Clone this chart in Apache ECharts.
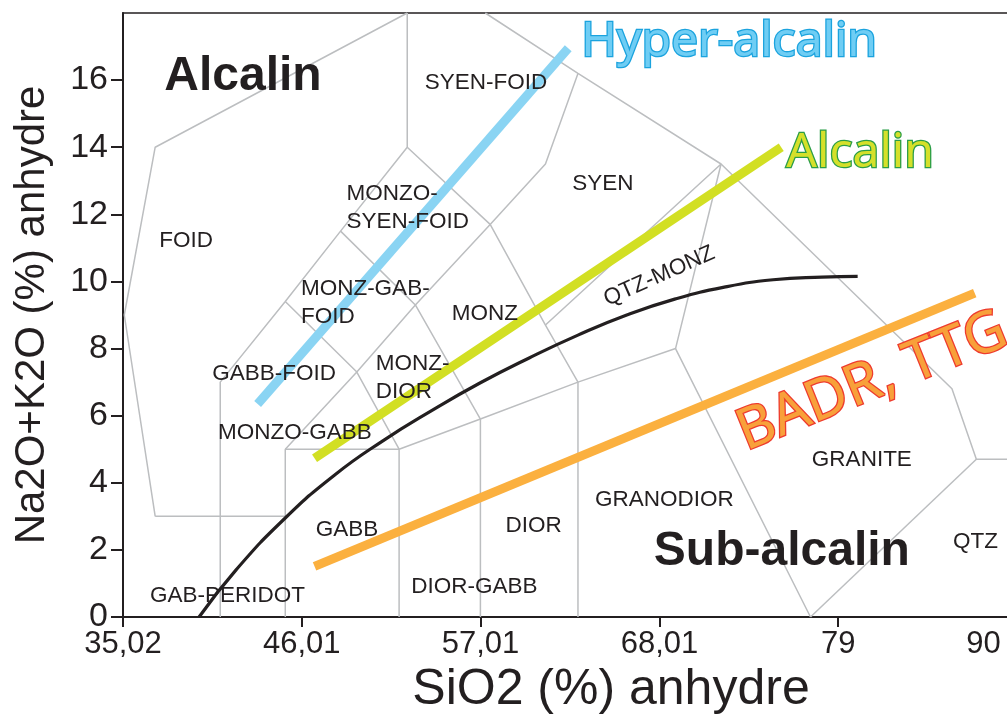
<!DOCTYPE html>
<html>
<head>
<meta charset="utf-8">
<title>TAS plutonique</title>
<script src="https://cdn.jsdelivr.net/npm/echarts@6/dist/echarts.min.js"></script>
<style>
  html, body { margin: 0; padding: 0; background: #fff; }
  #chart { width: 1007px; height: 717px; }
</style>
</head>
<body>
<div id="chart"></div>
<script>
// axes
const xTicks = [35.02, 46.01, 57.01, 68.01, 79, 90]
const yTicks = [0, 2, 4, 6, 8, 10, 12, 14, 16]

// field boundaries [SiO2, Na2O+K2O]
const fieldLines = [
  [[37, 3], [35.1, 9], [37, 14], [52.5, 18]],
  [[37, 3], [45, 3]],
  [[41, 0], [41, 7], [45, 9.4], [48.4, 11.5], [52.5, 14], [52.5, 18]],
  [[45, 0], [45, 5], [52, 5], [52, 0]],
  [[45, 5], [49.4, 7.3], [52, 5]],
  [[45, 9.4], [49.4, 7.3], [53, 9.3], [57, 5.9], [57, 0]],
  [[48.4, 11.5], [53, 9.3], [57.6, 11.7], [52.5, 14]],
  [[52, 5], [57, 5.9], [63, 7], [69, 8], [77.3, 0]],
  [[57.6, 11.7], [61, 8.7], [63, 7], [63, 0]],
  [[57.6, 11.7], [61, 13.5], [63, 16.2]],
  [[57.3, 18], [63, 16.2], [71.8, 13.5], [86, 6.8], [87.5, 4.7], [90, 4.7]],
  [[61, 8.7], [71.8, 13.5], [69, 8]],
  [[87.5, 4.7], [77.3, 0]]
]

// alcalin / sub-alcalin boundary
const divideCurve = [
  [39.7, 0], [42, 1.42], [45, 2.95], [48, 4.22], [51, 5.25], [54, 6.15],
  [57, 6.98], [60, 7.72], [63, 8.4], [66, 9.0], [69, 9.48], [72, 9.83],
  [75, 10.05], [78, 10.13], [80.2, 10.15]
]

// trend bands
const hyperBand = [[43.3, 6.35], [62.4, 16.95]]
const alcalinBand = [[46.8, 4.73], [75.5, 14.0]]
const badrBand = [[46.8, 1.51], [87.4, 9.65]]

// field names
const fieldLabels = [
  ['FOID', 38.9, 11.2],
  ['SYEN-FOID', 57.34, 15.92],
  ['SYEN', 64.53, 12.92],
  ['MONZ', 57.28, 9.04],
  ['GABB-FOID', 44.31, 7.24],
  ['MONZO-GABB', 45.59, 5.49],
  ['GABB', 48.8, 2.6],
  ['GAB-PERIDOT', 41.44, 0.63],
  ['DIOR-GABB', 56.63, 0.91],
  ['DIOR', 60.28, 2.72],
  ['GRANODIOR', 68.31, 3.49],
  ['GRANITE', 80.46, 4.68],
  ['QTZ', 87.45, 2.25]
]
const stackedLabels = [
  ['MONZO-\nSYEN-FOID', 48.77, 12.18],
  ['MONZ-GAB-\nFOID', 45.96, 9.35],
  ['MONZ-\nDIOR', 50.57, 7.12]
]
const slantLabel = ['QTZ-MONZ', 68.0, 10.16]
const groupLabels = [['Alcalin', 42.4, 16.1], ['Sub-alcalin', 75.54, 1.93]]

// band names
const tagNames = ['Hyper-alcalin', 'Alcalin', 'BADR, TTG']
const tagX = [72.3, 80.35, 81.1]
const tagY = [17.14, 13.83, 7.0]

const ink = '#231f20'
const grey = '#bcbec0'
const sans = 'Liberation Sans, Arial, Helvetica, sans-serif'
const tagFont = 'Noto Sans, Open Sans, sans-serif'

let myChart = echarts.init(document.getElementById('chart'))

let series = []

fieldLines.forEach((pts) => {
  series.push({
    type: 'line',
    data: pts,
    symbol: 'none',
    silent: true,
    lineStyle: { color: grey, width: 1.5 },
    z: 1
  })
})

// coloured trends
const bandColors = ['#8ad4f3', '#d2df23', '#fbb03f']
;[hyperBand, alcalinBand, badrBand].forEach((pts, i) => {
  series.push({
    type: 'line',
    data: pts,
    symbol: 'none',
    silent: true,
    lineStyle: { color: bandColors[i], width: 9, cap: 'butt' },
    z: 3
  })
})

series.push({
  type: 'line',
  data: divideCurve,
  smooth: 0.5,
  symbol: 'none',
  silent: true,
  lineStyle: { color: ink, width: 3.2 },
  z: 4
})

// text labels placed at data coords
function textItem(name, x, y, label) {
  return { value: [x, y], name: name, label: Object.assign({ formatter: name }, label) }
}

let textData = []
fieldLabels.forEach((v) => {
  textData.push(textItem(v[0], v[1], v[2], {}))
})
stackedLabels.forEach((v) => {
  textData.push(textItem(v[0], v[1], v[2], { align: 'left', lineHeight: 28 }))
})
textData.push(textItem(slantLabel[0], slantLabel[1], slantLabel[2], { rotate: 24 }))
groupLabels.forEach((v) => {
  textData.push(textItem(v[0], v[1], v[2], { fontSize: 48, fontWeight: 'bold' }))
})

const tagStyles = [
  { color: '#6fcdf4', textBorderColor: '#1ba3de' },
  { color: '#d5e02a', textBorderColor: '#2a9d47' },
  { color: '#f8a03a', textBorderColor: '#ee3b2e', rotate: 22, fontSize: 57 }
]
tagNames.forEach((n, i) => {
  textData.push(textItem(n, tagX[i], tagY[i], Object.assign({
    fontFamily: tagFont,
    fontSize: 48,
    textBorderWidth: 2.6
  }, tagStyles[i])))
})

series.push({
  type: 'scatter',
  data: textData,
  symbolSize: 0,
  silent: true,
  z: 10,
  itemStyle: { opacity: 1 },
  label: {
    show: true,
    position: 'inside',
    color: ink,
    fontFamily: sans,
    fontSize: 22.5
  }
})

myChart.setOption({
  animation: false,
  backgroundColor: '#fff',
  grid: {
    left: 123,
    top: 13,
    right: -10,
    bottom: 100,
    containLabel: false,
    outerBoundsMode: 'none',
    show: true,
    borderColor: ink,
    borderWidth: 1.5
  },
  xAxis: {
    type: 'value',
    min: 35.02,
    max: 90,
    name: 'SiO2 (%) anhydre',
    nameLocation: 'middle',
    nameGap: 48,
    nameTextStyle: {
      color: ink,
      fontFamily: sans,
      fontSize: 50,
      padding: [0, 0, 0, 82]
    },
    splitLine: { show: false },
    axisLine: { onZero: false, lineStyle: { color: ink, width: 2 } },
    axisTick: {
      customValues: xTicks,
      length: 10,
      lineStyle: { color: ink, width: 2 }
    },
    axisLabel: {
      customValues: xTicks,
      margin: 12,
      color: ink,
      fontFamily: sans,
      fontSize: 31,
      formatter: (v) => (v === 90 ? '{last|90}' : String(v).replace('.', ',')),
      rich: {
        last: { color: ink, fontFamily: sans, fontSize: 31, padding: [0, 67, 0, 0] }
      }
    }
  },
  yAxis: {
    type: 'value',
    min: 0,
    max: 18,
    name: 'Na2O+K2O (%) anhydre',
    nameLocation: 'middle',
    nameGap: 70,
    nameTextStyle: { color: ink, fontFamily: sans, fontSize: 42 },
    splitLine: { show: false },
    axisLine: { onZero: false, lineStyle: { color: ink, width: 2 } },
    axisTick: {
      customValues: yTicks,
      length: 12,
      lineStyle: { color: ink, width: 2 }
    },
    axisLabel: {
      customValues: yTicks,
      margin: 15,
      color: ink,
      fontFamily: sans,
      fontSize: 34
    }
  },
  series: series
})

window.addEventListener('resize', () => {
  myChart.resize()
})
</script>
</body>
</html>
